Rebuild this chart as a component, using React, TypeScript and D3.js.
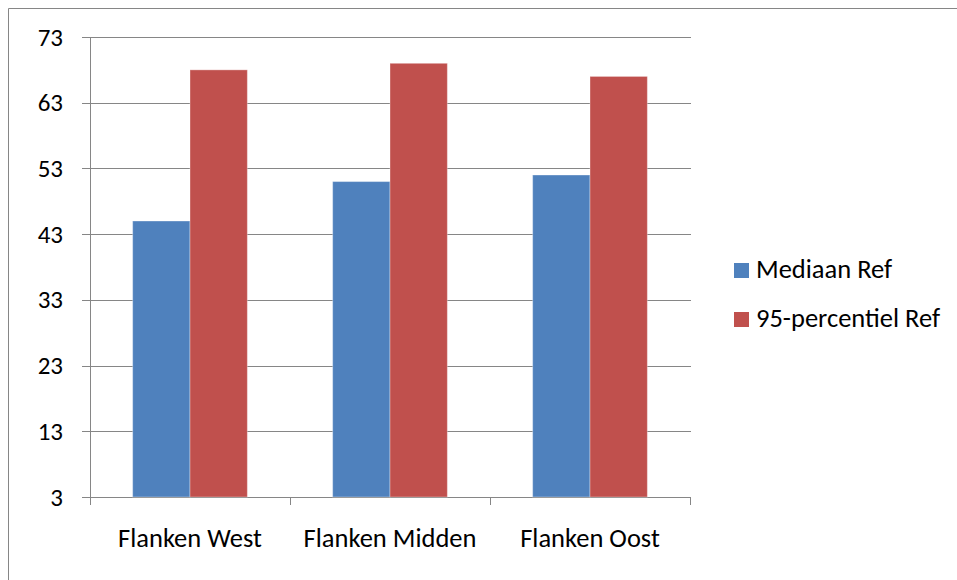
import React from "react";
import * as d3 from "d3";

const categories = ["Flanken West", "Flanken Midden", "Flanken Oost"];
const seriesNames = ["Mediaan Ref", "95-percentiel Ref"];
const mediaanValues = [45, 51, 52];
const percentielValues = [68, 69, 67];
const yTicks = [3, 13, 23, 33, 43, 53, 63, 73];
const colors = ["#4F81BD", "#C0504D"];

const W = 957;
const H = 580;
const FONT = "Carlito, Calibri, Lato, sans-serif";

export default function App() {
  const series = [mediaanValues, percentielValues];
  const y = d3.scaleLinear().domain([3, 73]).range([497, 37]);
  const x = d3
    .scaleBand<string>()
    .domain(categories)
    .range([90, 690])
    .paddingInner(0.4265)
    .paddingOuter(0.21325);
  const xs = d3
    .scaleBand<number>()
    .domain(d3.range(series.length))
    .range([0, x.bandwidth()]);
  const step = x.step();
  const catTicks = d3.range(categories.length + 1).map((i) => 90 + i * step);
  const gridColor = "#868686";

  return (
    <svg
      width={W}
      height={H}
      style={{ position: "absolute", left: 0, top: 0 }}
      fontFamily={FONT}
    >
      <rect x={0} y={0} width={W} height={H} fill="#fff" />
      {/* outer border */}
      <path d={`M8.5,${H} V8.5 H${W}`} fill="none" stroke={gridColor} strokeWidth={1} />
      {/* gridlines */}
      {yTicks.map((t) => (
        <line
          key={t}
          x1={82}
          x2={691}
          y1={Math.round(y(t)) + 0.5}
          y2={Math.round(y(t)) + 0.5}
          stroke={gridColor}
          strokeWidth={1}
        />
      ))}
      {/* y axis line */}
      <line x1={90.5} x2={90.5} y1={37} y2={505} stroke={gridColor} strokeWidth={1} />
      {catTicks.map((cx, i) => (
        <line
          key={i}
          x1={Math.round(cx) + 0.5}
          x2={Math.round(cx) + 0.5}
          y1={497}
          y2={505}
          stroke={gridColor}
          strokeWidth={1}
        />
      ))}
      {/* bars */}
      {categories.map((c, ci) => (
        <g key={c} transform={`translate(${x(c)},0)`}>
          {series.map((vals, si) => (
            <rect
              key={si}
              x={xs(si)}
              y={y(vals[ci])}
              width={xs.bandwidth()}
              height={y(3) - y(vals[ci])}
              fill={colors[si]}
              stroke="rgba(255,255,255,0.35)"
              strokeWidth={1}
            />
          ))}
        </g>
      ))}
      {/* y labels */}
      {yTicks.map((t) => (
        <text
          key={t}
          x={63}
          y={y(t) + 8.5}
          textAnchor="end"
          fontSize={25}
          fill="#000"
        >
          {t}
        </text>
      ))}
      {/* category labels */}
      {categories.map((c) => (
        <text
          key={c}
          x={(x(c) as number) + x.bandwidth() / 2}
          y={547}
          textAnchor="middle"
          fontSize={26.5}
          fill="#000"
        >
          {c}
        </text>
      ))}
      {/* legend */}
      {seriesNames.map((n, i) => (
        <g key={n} transform={`translate(734,${263 + i * 49})`}>
          <rect x={0} y={0} width={15} height={15} fill={colors[i]} />
          <text x={22} y={15} fontSize={26.5} fill="#000">
            {n}
          </text>
        </g>
      ))}
    </svg>
  );
}
